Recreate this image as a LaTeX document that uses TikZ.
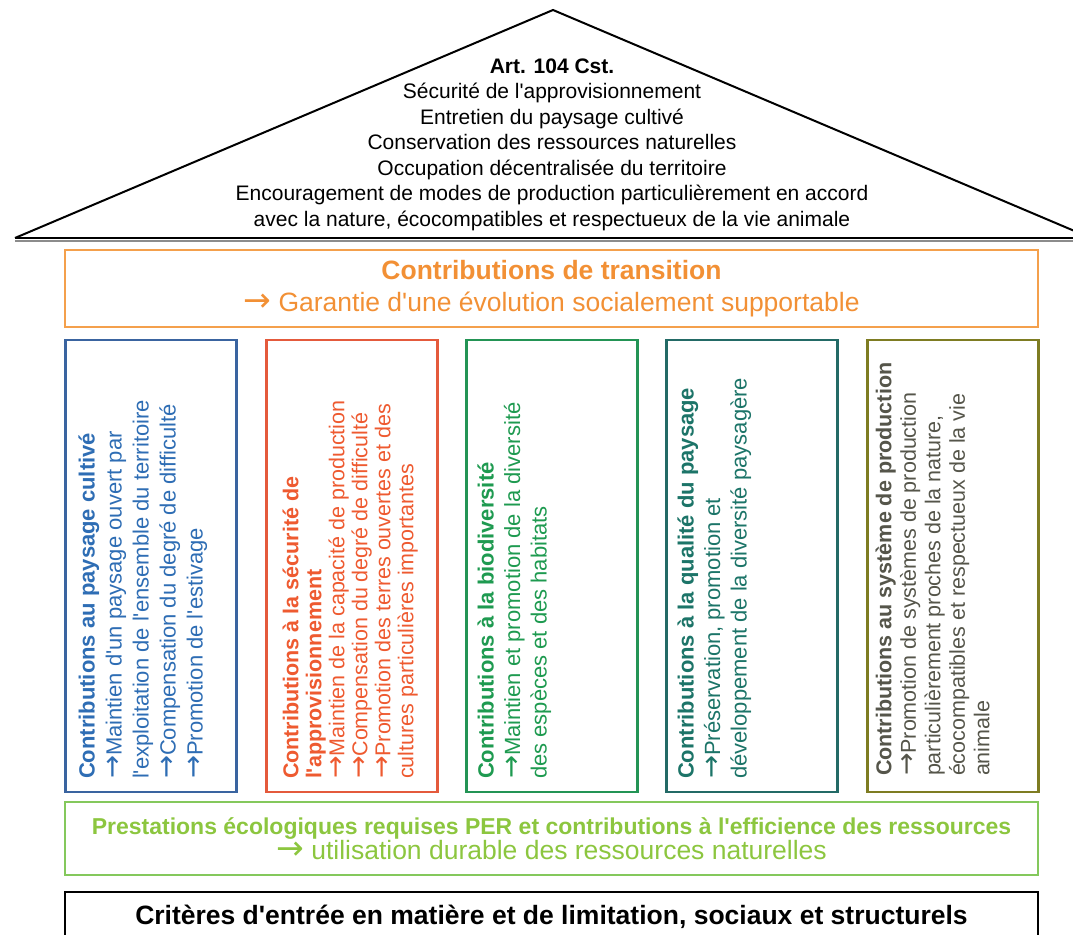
\documentclass[tikz,border=0pt]{standalone}
\usepackage{graphicx}
\usepackage{fontspec}
\setmainfont{Liberation Sans}[Ligatures=TeXOff]
\newfontfamily\arrowfont{DejaVu Sans}
\newcommand{\ra}{\scalebox{1.25}{\arrowfont →}}
\definecolor{blueB}{HTML}{3A64A0}
\definecolor{blueT}{HTML}{2E6DB4}
\definecolor{redB}{HTML}{E45A3C}
\definecolor{redT}{HTML}{EE5A30}
\definecolor{greenB}{HTML}{239455}
\definecolor{greenT}{HTML}{1E9A50}
\definecolor{tealB}{HTML}{236A66}
\definecolor{tealT}{HTML}{1C7468}
\definecolor{oliveB}{HTML}{7E7C22}
\definecolor{oliveT}{HTML}{55554A}
\definecolor{orangeB}{HTML}{F4A04C}
\definecolor{orangeT}{HTML}{F29035}
\definecolor{lgreenB}{HTML}{84C85C}
\definecolor{lgreenT}{HTML}{8CC63F}
\begin{document}
\begin{tikzpicture}[x=1pt,y=1pt,
  band/.style={draw, line width=2.4pt, minimum width=973pt, inner sep=0pt, align=center},
  col/.style={draw, line width=2.4pt, minimum width=171pt, minimum height=452pt, inner sep=0pt},
  coltext/.style={rotate=90, anchor=north west, align=left, inner sep=0pt},
  roofline/.style={line width=2pt, line join=miter}]
\useasboundingbox (0,0) rectangle (1073,934);
\clip (0,0) rectangle (1073,934);
% roof
\coordinate (tl) at (15,696);
\coordinate (ta) at (553,924);
\coordinate (tr) at (1091,696);
\draw[roofline] (tl) -- (ta) -- (tr);
\draw[black!45, line width=2pt] ([yshift=-3pt]tl) -- ([yshift=-3pt]tr);
\draw[line width=2.6pt] (tl) -- (tr);
\node[font=\fontsize{21}{25.5}\selectfont, align=center] (roof) at (552,789.5)
 {\textbf{Art. 104 Cst.}\\
  Sécurité de l'approvisionnement\\
  Entretien du paysage cultivé\\
  Conservation des ressources naturelles\\
  Occupation décentralisée du territoire\\
  Encouragement de modes de production particulièrement en accord\\
  avec la nature, écocompatibles et respectueux de la vie animale};
% transition band
\node[band, draw=orangeB, text=orangeT, minimum height=77pt,
      font=\fontsize{26.5}{32}\selectfont] (trans) at (551.5,645.5)
 {\textbf{Contributions de transition}\\
  \ra{} Garantie d'une évolution socialement supportable};
% columns
\node[col, draw=blueB]  (c1) at (151,368) {};
\node[col, draw=redB]   (c2) at (352,368) {};
\node[col, draw=greenB] (c3) at (552,368) {};
\node[col, draw=tealB]  (c4) at (752,368) {};
\node[col, draw=oliveB] (c5) at (953,368) {};
\node[coltext, text=blueT, font=\fontsize{22}{27}\selectfont] (t1)
  at ([shift={(14,14)}]c1.south west)
 {\textbf{Contributions au paysage cultivé}\\
  \ra Maintien d'un paysage ouvert par\\
  l'exploitation de l'ensemble du territoire\\
  \ra Compensation du degré de difficulté\\
  \ra Promotion de l'estivage};
\node[coltext, text=redT, font=\fontsize{21.5}{23}\selectfont] (t2)
  at ([shift={(17,14)}]c2.south west)
 {\textbf{Contributions à la sécurité de}\\
  \textbf{l'approvisionnement}\\
  \ra Maintien de la capacité de production\\
  \ra Compensation du degré de difficulté\\
  \ra Promotion des terres ouvertes et des\\
  cultures particulières importantes};
\node[coltext, text=greenT, font=\fontsize{22}{26.5}\selectfont] (t3)
  at ([shift={(12,14)}]c3.south west)
 {\textbf{Contributions à la biodiversité}\\
  \ra Maintien et promotion de la diversité\\
  des espèces et des habitats};
\node[coltext, text=tealT, font=\fontsize{22}{26.5}\selectfont] (t4)
  at ([shift={(12,14)}]c4.south west)
 {\textbf{Contributions à la qualité du paysage}\\
  \ra Préservation, promotion et\\
  développement de la diversité paysagère};
\node[coltext, text=oliveT, font=\fontsize{21.5}{24.5}\selectfont] (t5)
  at ([shift={(9,17)}]c5.south west)
 {\textbf{Contributions au système de production}\\
  \ra Promotion de systèmes de production\\
  particulièrement proches de la nature,\\
  écocompatibles et respectueux de la vie\\
  animale};
% PER band
\node[band, draw=lgreenB, text=lgreenT, minimum height=73pt] (per) at (551.5,95.5)
 {\fontsize{23}{33}\selectfont\textbf{Prestations écologiques requises PER et contributions à l'efficience des ressources}\\
  \fontsize{26.5}{33}\selectfont \ra{} utilisation durable des ressources naturelles};
% criteria box
\node[band, draw=black, minimum height=50pt, font=\fontsize{26.5}{32}\selectfont\bfseries] (crit) at (551.5,17)
 {Critères d'entrée en matière et de limitation, sociaux et structurels};
\end{tikzpicture}
\end{document}
